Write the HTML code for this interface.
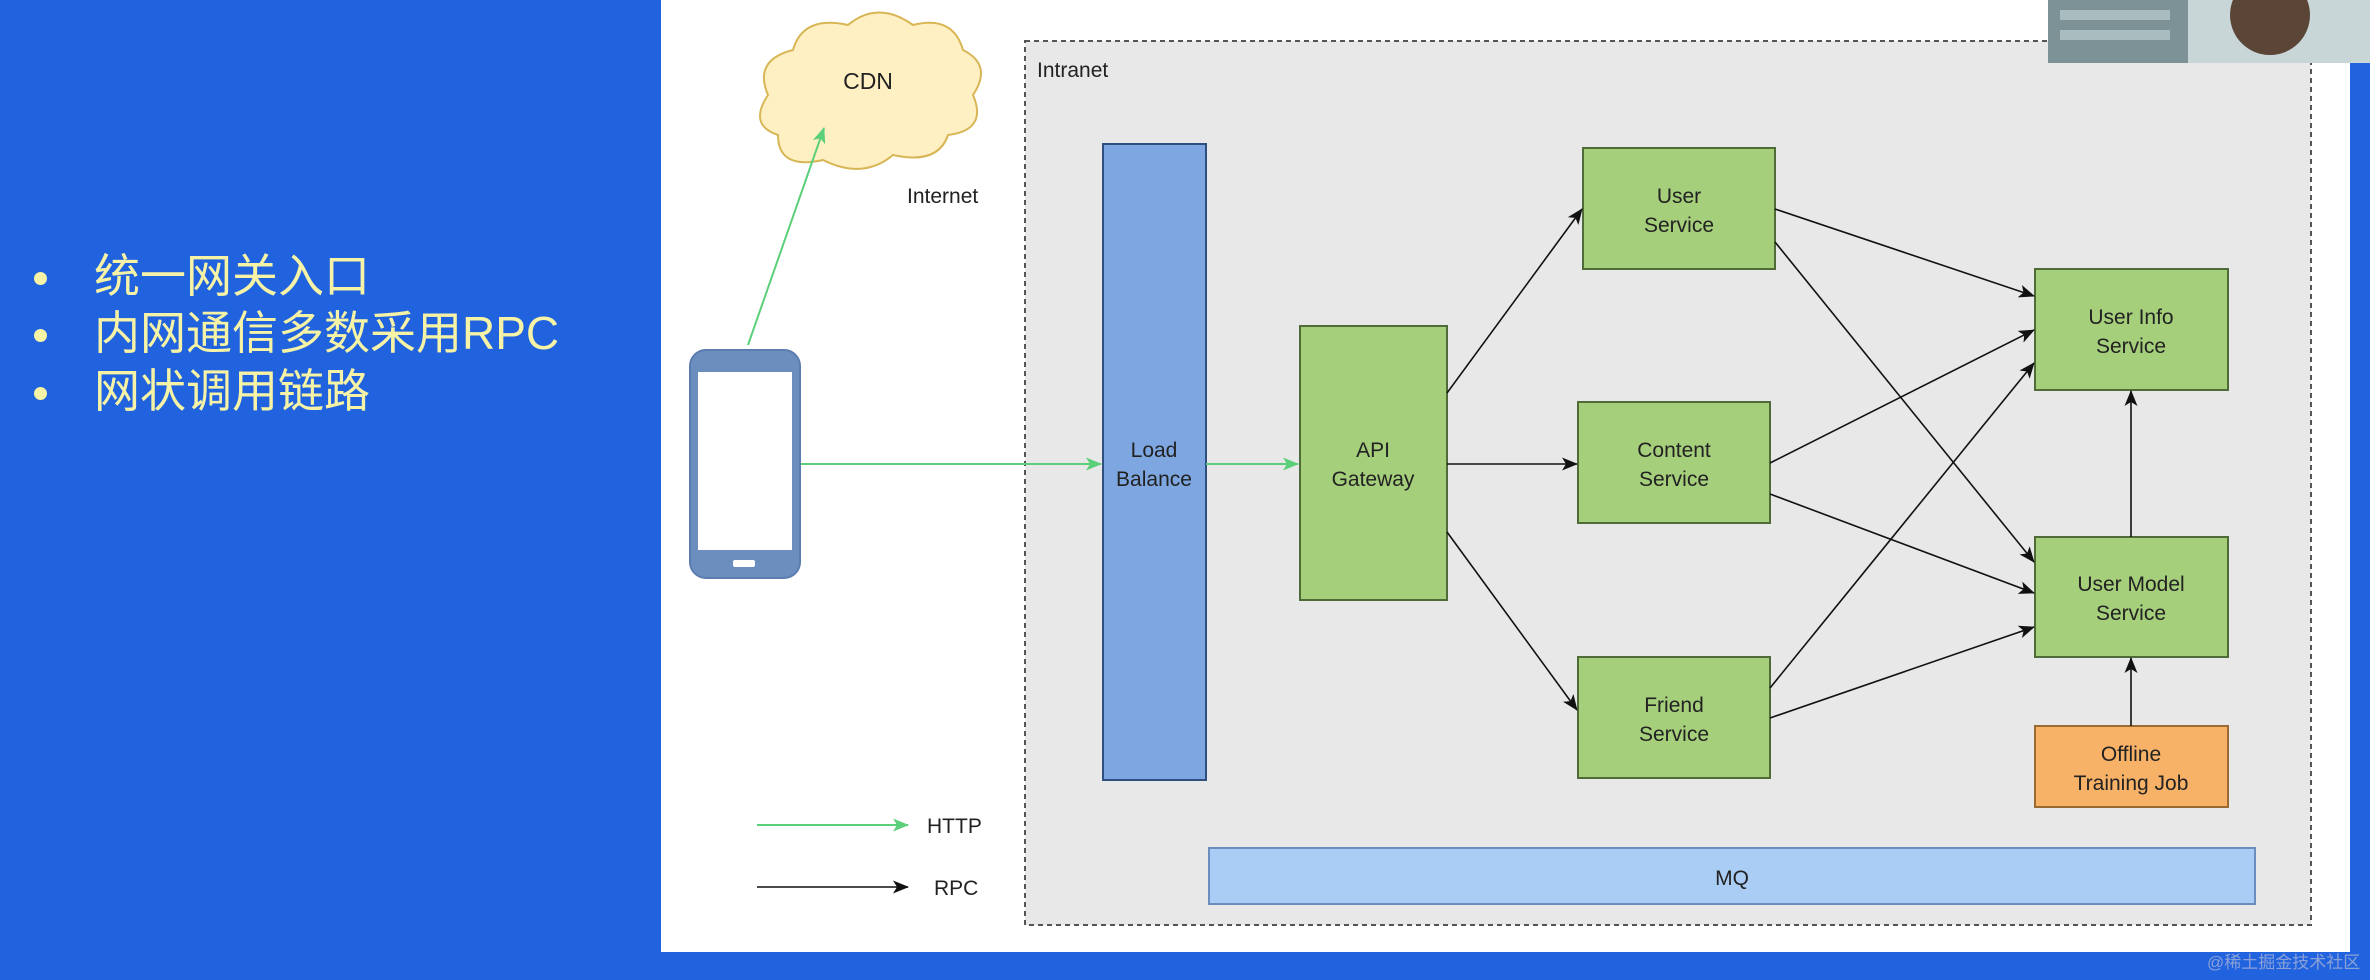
<!DOCTYPE html>
<html><head><meta charset="utf-8"><style>
html,body{margin:0;padding:0;}
body{width:2370px;height:980px;background:#2163de;overflow:hidden;position:relative;font-family:"Liberation Sans","Noto Sans CJK SC",sans-serif;}
.b{position:absolute;left:94px;color:#f6f3a6;font-size:46px;line-height:1;}
.d{position:absolute;left:34px;width:13px;height:13px;border-radius:50%;background:#f6f3a6;}
</style></head><body>
<div class="d" style="top:272px"></div><div class="b" style="top:253px">统一网关入口</div>
<div class="d" style="top:329px"></div><div class="b" style="top:310px">内网通信多数采用RPC</div>
<div class="d" style="top:387px"></div><div class="b" style="top:368px">网状调用链路</div>
<svg width="2370" height="980" style="position:absolute;left:0;top:0" font-family="Liberation Sans, sans-serif">
<defs>
<marker id="k" markerWidth="16" markerHeight="13" refX="15" refY="6.5" orient="auto" markerUnits="userSpaceOnUse"><path d="M0,0 L16,6.5 L0,13 L4,6.5z" fill="#111"/></marker>
<marker id="g" markerWidth="16" markerHeight="13" refX="15" refY="6.5" orient="auto" markerUnits="userSpaceOnUse"><path d="M0,0 L16,6.5 L0,13 L4,6.5z" fill="#5ccf7a"/></marker>
</defs>
<rect x="661" y="0" width="1689" height="952" fill="#fff"/>
<rect x="1025" y="41" width="1286" height="884" fill="#e8e8e8" stroke="#555" stroke-width="2" stroke-dasharray="5,4"/>
<text x="1037" y="77" font-size="21" fill="#222">Intranet</text>
<rect x="2048" y="0" width="322" height="63" fill="#c9d6d8"/>
<rect x="2048" y="0" width="140" height="63" fill="#7d9296"/>
<rect x="2060" y="10" width="110" height="10" fill="#a9bcc0"/>
<rect x="2060" y="30" width="110" height="10" fill="#a9bcc0"/>
<ellipse cx="2270" cy="15" rx="40" ry="40" fill="#5a4536"/>
<path d="M768,95 q-15,-35 25,-45 q10,-35 55,-25 q30,-25 65,0 q40,-10 50,25 q30,15 10,45 q15,35 -25,40 q-10,30 -55,20 q-30,25 -70,5 q-45,10 -45,-25 q-30,-10 -10,-40z" fill="#fff0c4" stroke="#d8b655" stroke-width="2"/>
<text x="868" y="89" font-size="23" text-anchor="middle" fill="#222">CDN</text>
<text x="907" y="203" font-size="21" fill="#222">Internet</text>
<rect x="690" y="350" width="110" height="228" rx="16" fill="#6c8ebf" stroke="#5a7cb0" stroke-width="2"/>
<rect x="698" y="372" width="94" height="178" fill="#fff"/>
<rect x="733" y="560" width="22" height="7" rx="2" fill="#fff"/>
<line x1="748" y1="345" x2="824" y2="128" stroke="#5ccf7a" stroke-width="2" marker-end="url(#g)"/>
<line x1="801" y1="464" x2="1101" y2="464" stroke="#5ccf7a" stroke-width="2" marker-end="url(#g)"/>
<rect x="1103" y="144" width="103" height="636" fill="#7ea6e0" stroke="#2f4f80" stroke-width="2"/>
<text x="1154" y="457" font-size="21" text-anchor="middle" fill="#222">Load</text>
<text x="1154" y="486" font-size="21" text-anchor="middle" fill="#222">Balance</text>
<line x1="1206" y1="464" x2="1298" y2="464" stroke="#5ccf7a" stroke-width="2" marker-end="url(#g)"/>
<g fill="#a6cf7c" stroke="#4f6b38" stroke-width="2">
<rect x="1300" y="326" width="147" height="274"/>
<rect x="1583" y="148" width="192" height="121"/>
<rect x="1578" y="402" width="192" height="121"/>
<rect x="1578" y="657" width="192" height="121"/>
<rect x="2035" y="269" width="193" height="121"/>
<rect x="2035" y="537" width="193" height="120"/>
</g>
<rect x="2035" y="726" width="193" height="81" fill="#f7b267" stroke="#9a6a30" stroke-width="2"/>
<rect x="1209" y="848" width="1046" height="56" fill="#a9cdf5" stroke="#6c8ebf" stroke-width="2"/>
<g font-size="21" text-anchor="middle" fill="#222">
<text x="1373" y="457">API</text><text x="1373" y="486">Gateway</text>
<text x="1679" y="203">User</text><text x="1679" y="232">Service</text>
<text x="1674" y="457">Content</text><text x="1674" y="486">Service</text>
<text x="1674" y="712">Friend</text><text x="1674" y="741">Service</text>
<text x="2131" y="324">User Info</text><text x="2131" y="353">Service</text>
<text x="2131" y="591">User Model</text><text x="2131" y="620">Service</text>
<text x="2131" y="761">Offline</text><text x="2131" y="790">Training Job</text>
<text x="1732" y="885">MQ</text>
</g>
<g stroke="#111" stroke-width="1.6" marker-end="url(#k)">
<line x1="1447" y1="393" x2="1582" y2="209"/>
<line x1="1447" y1="464" x2="1577" y2="464"/>
<line x1="1447" y1="532" x2="1577" y2="710"/>
<line x1="1775" y1="209" x2="2034" y2="296"/>
<line x1="1775" y1="242" x2="2034" y2="562"/>
<line x1="1770" y1="463" x2="2034" y2="330"/>
<line x1="1770" y1="494" x2="2034" y2="593"/>
<line x1="1770" y1="688" x2="2034" y2="363"/>
<line x1="1770" y1="718" x2="2034" y2="627"/>
<line x1="2131" y1="537" x2="2131" y2="391"/>
<line x1="2131" y1="726" x2="2131" y2="658"/>
<line x1="757" y1="887" x2="908" y2="887"/>
</g>
<line x1="757" y1="825" x2="908" y2="825" stroke="#5ccf7a" stroke-width="2" marker-end="url(#g)"/>
<text x="927" y="833" font-size="21" fill="#222">HTTP</text>
<text x="934" y="895" font-size="21" fill="#222">RPC</text>
<text x="2207" y="968" font-size="17" fill="#8aa0d8" font-family="Liberation Sans, Noto Sans CJK SC, sans-serif">@稀土掘金技术社区</text>
</svg>
</body></html>
